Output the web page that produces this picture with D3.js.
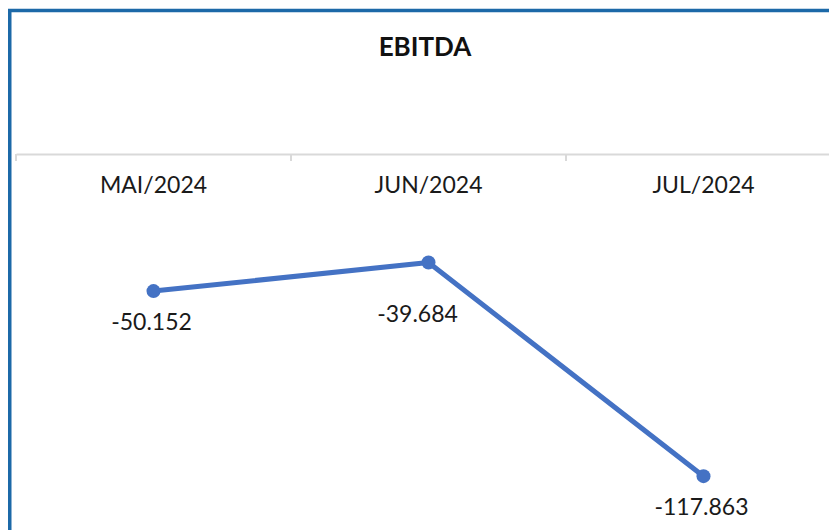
<!DOCTYPE html>
<html>
<head>
<meta charset="utf-8">
<script src="https://cdn.jsdelivr.net/npm/d3@7"></script>
<style>
    body { margin: 0; background: #ffffff; }
    svg { display: block; font-family: Lato, "Open Sans", sans-serif; }
</style>
</head>
<body>
<svg id="chart" width="829" height="530"></svg>
<script>
// chart data
const months = ['MAI/2024', 'JUN/2024', 'JUL/2024'];
const ebitda = [-50.152, -39.684, -117.863];
const valueLabels = ['-50.152', '-39.684', '-117.863'];

const width = 829, height = 530;
const svg = d3.select('#chart');

// frame (only left and top edges are visible in the crop)
svg.append('rect')
    .attr('x', 9.75).attr('y', 10.5)
    .attr('width', 900).attr('height', 600)
    .attr('fill', 'none')
    .attr('stroke', '#1c69a8')
    .attr('stroke-width', 3.5);

svg.append('text')
    .attr('x', 425).attr('y', 56)
    .attr('text-anchor', 'middle')
    .attr('font-size', 26).attr('font-weight', 700)
    .attr('fill', '#111')
    .text('EBITDA');

let x = d3.scaleBand().domain(months).range([16, 841]).padding(0);
let y = d3.scaleLinear().domain([0, -120]).range([154, 482]);

// category axis sits on the zero line
let axis = svg.append('g')
    .attr('transform', `translate(0,${y(0)})`)
    .call(d3.axisBottom(x).tickSize(0).tickPadding(0));
axis.select('.domain').attr('stroke', '#d9d9d9').attr('stroke-width', 2);
axis.selectAll('text')
    .attr('dy', 0).attr('y', 39)
    .attr('font-size', 23)
    .attr('font-family', 'Lato, sans-serif')
    .attr('fill', '#1a1a1a');

// tick marks between categories
axis.selectAll('line.sep')
    .data(months)
    .join('line')
    .attr('class', 'sep')
    .attr('x1', d => x(d)).attr('x2', d => x(d))
    .attr('y1', 0).attr('y2', 7)
    .attr('stroke', '#d9d9d9').attr('stroke-width', 2);

let pts = months.map((m, i) => [x(m) + x.bandwidth()/2, y(ebitda[i])]);

svg.append('path')
    .datum(pts)
    .attr('d', d3.line())
    .attr('fill', 'none')
    .attr('stroke', '#4472c4')
    .attr('stroke-width', 5)
    .attr('stroke-linejoin', 'round');

svg.selectAll('circle.pt')
    .data(pts)
    .join('circle')
    .attr('class', 'pt')
    .attr('cx', d => d[0]).attr('cy', d => d[1])
    .attr('r', 7)
    .attr('fill', '#4472c4');

// labels below points; the middle one was nudged off the line in the original
const labelNudge = [[-2, 39], [-11, 60], [-2, 39]];
svg.selectAll('text.val')
    .data(pts)
    .join('text')
    .attr('class', 'val')
    .attr('x', (d, i) => d[0] + labelNudge[i][0])
    .attr('y', (d, i) => d[1] + labelNudge[i][1])
    .attr('text-anchor', 'middle')
    .attr('font-size', 23)
    .attr('fill', '#1a1a1a')
    .text((d, i) => valueLabels[i]);
</script>
</body>
</html>
